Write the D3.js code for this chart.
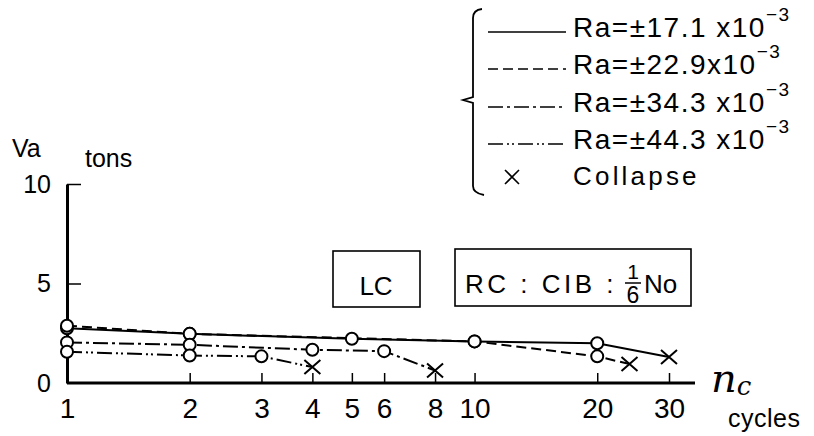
<!DOCTYPE html>
<html>
<head>
<meta charset="utf-8">
<script src="https://cdn.jsdelivr.net/npm/d3@7"></script>
<style>
  body { margin: 0; background: #fff; }
  svg { display: block; font-family: "Liberation Sans", Arial, sans-serif; }
</style>
</head>
<body>
<svg id="chart" width="814" height="436"></svg>
<script>
// values: [cycles, Va tons]; last point of each is the collapse
const ra171 = [[1, 2.75], [2, 2.47], [5, 2.22], [10, 2.09], [20, 2.0], [30, 1.31]];
const ra229 = [[1, 2.88], [2, 2.47], [10, 2.09], [20, 1.34], [24, 0.95]];
const ra343 = [[1, 2.04], [2, 1.92], [4, 1.67], [6, 1.6], [8, 0.63]];
const ra443 = [[1, 1.57], [2, 1.38], [3, 1.34], [4, 0.8]];
const raLabels = ["17.1 x", "22.9x", "34.3 x", "44.3 x"];
const dashes = [null, "10,5", "15,4,3,4", "15,4,2,3,2,4"];
const xTicks = [1, 2, 3, 4, 5, 6, 8, 10, 20, 30];
const yTicks = [0, 5, 10];

const svg = d3.select("#chart");
const x = d3.scaleLog().domain([1, 30]).range([67, 669]);
const y = d3.scaleLinear().domain([0, 10]).range([383, 184]);

// axes
const xAxis = svg.append("g").attr("transform", "translate(0,383)")
  .call(d3.axisBottom(x).tickValues(xTicks).tickFormat(d3.format("d"))
    .tickSizeInner(-10).tickSizeOuter(0).tickPadding(15));
xAxis.select(".domain").attr("d", "M67,0H695").attr("stroke-width", 3);
xAxis.selectAll(".tick line").attr("stroke-width", 1.5).filter(d => d === 1).remove();
xAxis.selectAll("text").attr("font-size", 28).attr("fill", "#000");

const yAxis = svg.append("g").attr("transform", "translate(67,0)")
  .call(d3.axisLeft(y).tickValues(yTicks).tickSizeInner(-14).tickSizeOuter(0).tickPadding(16));
yAxis.select(".domain").attr("stroke-width", 3);
yAxis.selectAll(".tick line").attr("stroke-width", 1.5).filter(d => d === 0).remove();
yAxis.selectAll("text").attr("font-size", 25).attr("fill", "#000");

svg.append("text").attr("x", 12).attr("y", 157).attr("font-size", 25).text("Va");
svg.append("text").attr("x", 85).attr("y", 167).attr("font-size", 25).text("tons");
svg.append("text").attr("x", 711).attr("y", 392).attr("font-size", 40)
  .attr("font-family", "DejaVu Serif, serif").attr("font-style", "italic").text("n")
  .append("tspan").attr("font-size", 26).attr("dy", 3).text("c");
svg.append("text").attr("x", 728).attr("y", 427).attr("font-size", 25)
  .attr("letter-spacing", 0.5).text("cycles");

// series
const series = [ra171, ra229, ra343, ra443];
const line = d3.line().x(d => x(d[0])).y(d => y(d[1]));
series.forEach((s, i) => {
  svg.append("path").attr("d", line(s)).attr("fill", "none")
    .attr("stroke", "#000").attr("stroke-width", 2)
    .attr("stroke-dasharray", dashes[i]);
});
series.forEach(s => {
  svg.selectAll(null).data(s.slice(0, -1)).join("circle")
    .attr("cx", d => x(d[0])).attr("cy", d => y(d[1])).attr("r", 6)
    .attr("fill", "#fff").attr("stroke", "#000").attr("stroke-width", 2);
  const c = s[s.length - 1];
  svg.append("path")
    .attr("d", `M${x(c[0]) - 8},${y(c[1]) - 7}L${x(c[0]) + 8},${y(c[1]) + 7}M${x(c[0]) + 8},${y(c[1]) - 7}L${x(c[0]) - 8},${y(c[1]) + 7}`)
    .attr("stroke", "#000").attr("stroke-width", 2);
});

// labels in boxes
svg.append("rect").attr("x", 333).attr("y", 251).attr("width", 87).attr("height", 56)
  .attr("fill", "none").attr("stroke", "#000").attr("stroke-width", 1.6);
svg.append("text").attr("x", 376).attr("y", 295).attr("text-anchor", "middle")
  .attr("font-size", 26).text("LC");
svg.append("rect").attr("x", 455).attr("y", 249).attr("width", 236).attr("height", 57)
  .attr("fill", "none").attr("stroke", "#000").attr("stroke-width", 1.6);
svg.append("text").attr("x", 465).attr("y", 293).attr("font-size", 26)
  .attr("letter-spacing", 3.5).text("RC : CIB :");
svg.append("text").attr("x", 633).attr("y", 279).attr("font-size", 21)
  .attr("text-anchor", "middle").text("1");
svg.append("line").attr("x1", 625).attr("x2", 641).attr("y1", 283).attr("y2", 283)
  .attr("stroke", "#000").attr("stroke-width", 1.5);
svg.append("text").attr("x", 633).attr("y", 303).attr("font-size", 23)
  .attr("text-anchor", "middle").text("6");
svg.append("text").attr("x", 644).attr("y", 293).attr("font-size", 26).text("No");

// legend
const lg = svg.append("g");
lg.append("path").attr("d", "M482,9Q473,10 473,18V97L463,100L473,103V186Q473,193 484,195")
  .attr("fill", "none").attr("stroke", "#000").attr("stroke-width", 1.8);
const rowY = [37, 74, 112, 149];
raLabels.forEach((t, i) => {
  lg.append("line").attr("x1", 488).attr("x2", 566)
    .attr("y1", rowY[i] - 5).attr("y2", rowY[i] - 5)
    .attr("stroke", "#000").attr("stroke-width", 1.6).attr("stroke-dasharray", dashes[i]);
  const txt = lg.append("text").attr("x", 573).attr("y", rowY[i])
    .attr("font-size", 28).attr("letter-spacing", 1.5);
  txt.append("tspan").text("Ra=±" + t + "10");
  txt.append("tspan").attr("dy", -16).attr("font-size", 19).text("−3");
});
lg.append("path").attr("d", "M505,170L519,184M519,170L505,184")
  .attr("stroke", "#000").attr("stroke-width", 1.6);
lg.append("text").attr("x", 573).attr("y", 185).attr("font-size", 26)
  .attr("letter-spacing", 3.2).text("Collapse");
</script>
</body>
</html>
